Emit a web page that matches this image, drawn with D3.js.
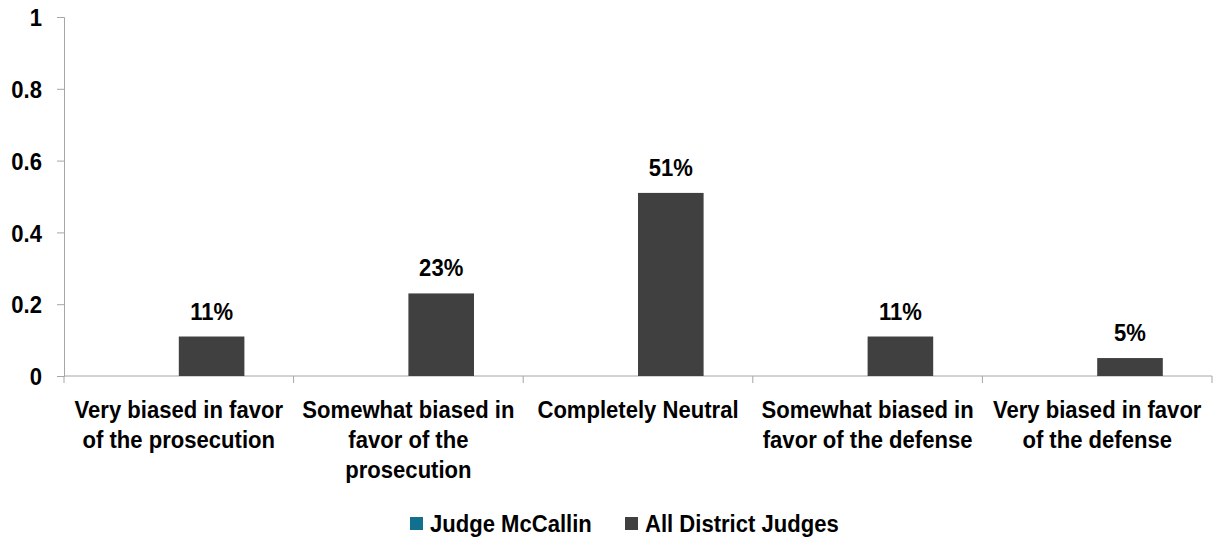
<!DOCTYPE html>
<html>
<head>
<meta charset="utf-8">
<script src="https://cdn.jsdelivr.net/npm/d3@7"></script>
<style>
    body { margin: 0; background: #fff; }
    text { font-family: "Liberation Sans", Arial, sans-serif; font-weight: bold; fill: #000; font-size: 24px; }
</style>
</head>
<body>
<svg id="chart" width="1215" height="544"></svg>
<script>
// categories, each split into the lines shown under the axis
const categories = [
    'Very biased in favor of the prosecution',
    'Somewhat biased in favor of the prosecution',
    'Completely Neutral',
    'Somewhat biased in favor of the defense',
    'Very biased in favor of the defense'
]
const categoryLines = [
    ['Very biased in favor', 'of the prosecution'],
    ['Somewhat biased in', 'favor of the', 'prosecution'],
    ['Completely Neutral'],
    ['Somewhat biased in', 'favor of the defense'],
    ['Very biased in favor', 'of the defense']
]
const seriesNames = ['Judge McCallin', 'All District Judges']
const seriesColors = ['#12708f', '#404040']
const judgeValues = [null, null, null, null, null]
const allJudgesValues = [0.11, 0.23, 0.51, 0.11, 0.05]
const yTicks = [0, 0.2, 0.4, 0.6, 0.8, 1]

// the reference font is a bit condensed
const SQ = 0.92
const squeeze = `scale(${SQ},1)`

const margin = { top: 17, left: 64, right: 3, bottom: 168 }
const width = 1215 - margin.left - margin.right
const height = 544 - margin.top - margin.bottom

const svg = d3.select('#chart')
const g = svg.append('g').attr('transform', `translate(${margin.left},${margin.top})`)

const x = d3.scaleBand().domain(categories).range([0, width])
// Excel-style gap width 150%: two bars + 1.5 bar of gap per category
const barW = x.bandwidth() / 3.5
const x1 = d3.scaleBand().domain(seriesNames).range([0.75 * barW, 2.75 * barW])
const y = d3.scaleLinear().domain([0, 1]).range([height, 0])

const series = [judgeValues, allJudgesValues]

// y axis
const yAxis = g.append('g')
    .call(d3.axisLeft(y).tickValues(yTicks).tickSize(7).tickFormat(d => d3.format('')(d)))
yAxis.select('.domain').attr('stroke', '#a6a6a6')
yAxis.selectAll('.tick line').attr('stroke', '#a6a6a6')
yAxis.selectAll('.tick text')
    .style('font-size', '24px')
    .attr('x', -22 / SQ)
    .attr('dy', '0.36em')
    .attr('transform', squeeze)

// x axis: ticks on category boundaries
const xAxisG = g.append('g').attr('transform', `translate(0,${height})`)
xAxisG.append('line')
    .attr('x1', 0).attr('x2', width)
    .attr('stroke', '#a6a6a6')
xAxisG.selectAll('.bound')
    .data(d3.range(categories.length + 1))
    .enter().append('line')
    .attr('x1', i => i < categories.length ? x(categories[i]) : width)
    .attr('x2', i => i < categories.length ? x(categories[i]) : width)
    .attr('y1', 0).attr('y2', 7)
    .attr('stroke', '#a6a6a6')

// category labels
categories.forEach((cat, i) => {
    const t = xAxisG.append('text')
        .attr('text-anchor', 'middle')
        .attr('transform', `translate(${x(cat) + x.bandwidth() / 2},42) ${squeeze}`)
    categoryLines[i].forEach((line, j) => {
        t.append('tspan').attr('x', 0).attr('y', j * 30).text(line)
    })
})

// bars
series.forEach((vals, s) => {
    const bars = g.append('g')
    categories.forEach((cat, i) => {
        if (vals[i] == null) return
        const cx = x(cat) + x1(seriesNames[s])
        bars.append('rect')
            .attr('x', cx)
            .attr('y', y(vals[i]))
            .attr('width', x1.bandwidth())
            .attr('height', height - y(vals[i]))
            .attr('fill', seriesColors[s])
        bars.append('text')
            .attr('transform', `translate(${cx + x1.bandwidth() / 2},${y(vals[i]) - 17}) ${squeeze}`)
            .attr('text-anchor', 'middle')
            .text(d3.format('.0%')(vals[i]))
    })
})

// legend
const legendPos = [410, 625]
const legend = svg.append('g').attr('transform', 'translate(0,517)')
seriesNames.forEach((name, s) => {
    legend.append('rect')
        .attr('x', legendPos[s]).attr('y', 0)
        .attr('width', 13).attr('height', 13)
        .attr('fill', seriesColors[s])
    legend.append('text')
        .attr('transform', `translate(${legendPos[s] + 20},15) ${squeeze}`)
        .text(name)
})
</script>
</body>
</html>
